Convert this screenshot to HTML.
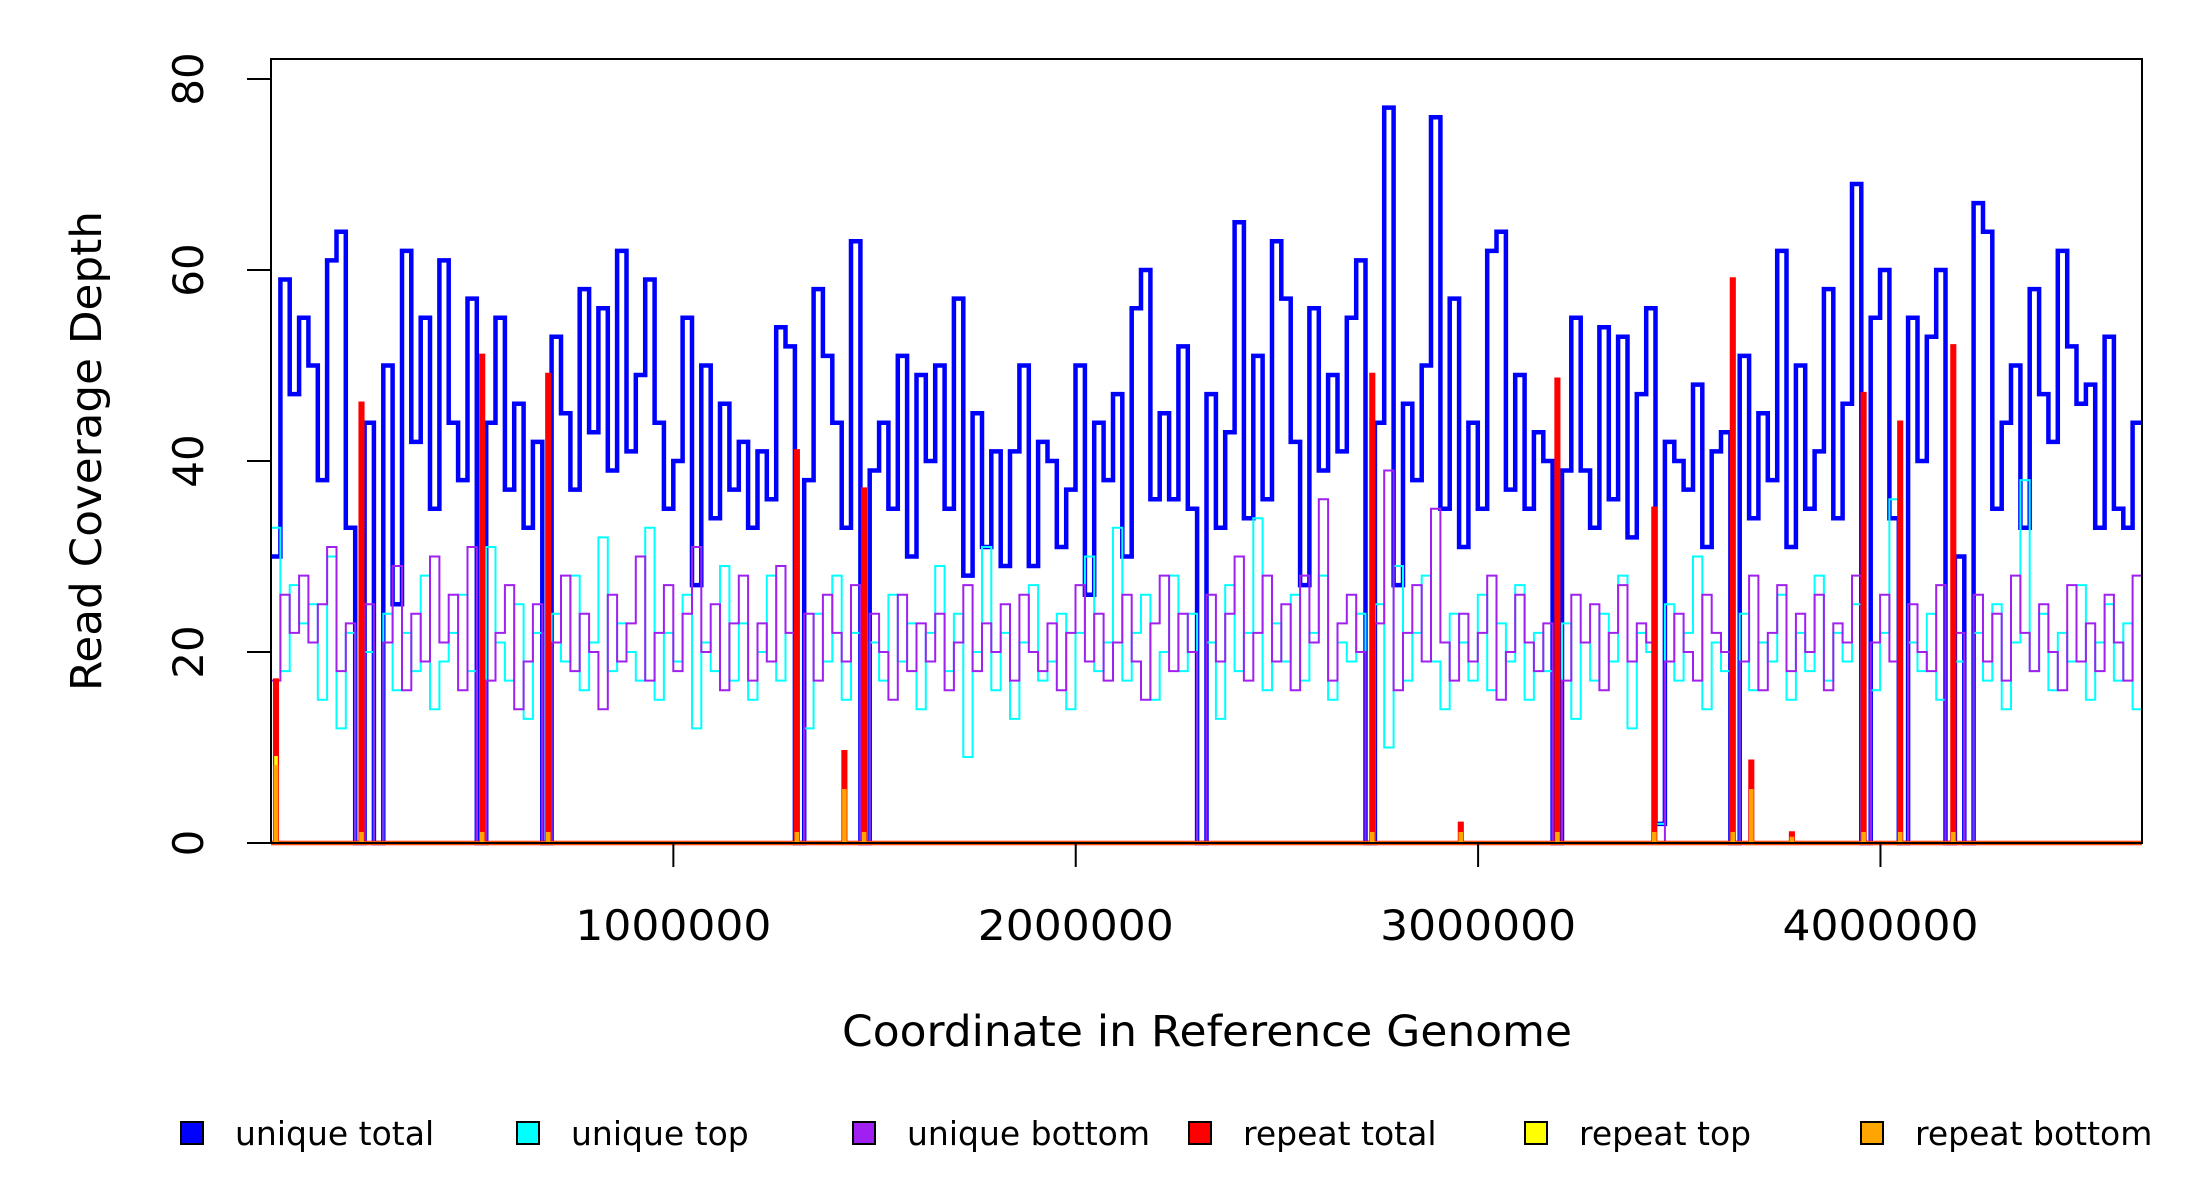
<!DOCTYPE html>
<html><head><meta charset="utf-8"><title>Read Coverage Depth</title>
<style>html,body{margin:0;padding:0;background:#fff;}svg{display:block;font-family:"DejaVu Sans","Liberation Sans",sans-serif;}</style>
</head><body>
<svg id="chart" width="2200" height="1200" viewBox="0 0 2200 1200" xmlns="http://www.w3.org/2000/svg">
<g id="plot"></g>
<g id="axes"></g>
<text x="1207" y="1046" font-size="43" text-anchor="middle" textLength="730" lengthAdjust="spacingAndGlyphs">Coordinate in Reference Genome</text>
<text x="0" y="0" font-size="43" text-anchor="middle" transform="translate(101,451) rotate(-90)" textLength="480" lengthAdjust="spacingAndGlyphs">Read Coverage Depth</text>
<g id="legend"></g>
</svg>
<script>
const binSize = 23250;
const uniqueTotal = [30,59,47,55,50,38,61,64,33,0,44,0,50,25,62,42,55,35,61,44,
38,57,0,44,55,37,46,33,42,0,53,45,37,58,43,56,39,62,41,49,
59,44,35,40,55,27,50,34,46,37,42,33,41,36,54,52,0,38,58,51,
44,33,63,0,39,44,35,51,30,49,40,50,35,57,28,45,31,41,29,41,
50,29,42,40,31,37,50,26,44,38,47,30,56,60,36,45,36,52,35,0,
47,33,43,65,34,51,36,63,57,42,27,56,39,49,41,55,61,0,44,77,
27,46,38,50,76,35,57,31,44,35,62,64,37,49,35,43,40,0,39,55,
39,33,54,36,53,32,47,56,2,42,40,37,48,31,41,43,0,51,34,45,
38,62,31,50,35,41,58,34,46,69,0,55,60,34,0,55,40,53,60,0,
30,0,67,64,35,44,50,33,58,47,42,62,52,46,48,33,53,35,33,44];
const uniqueTop = [33,18,27,23,25,15,30,12,22,0,20,0,24,16,22,18,28,14,19,22,
26,18,0,31,21,17,25,13,22,0,24,19,28,16,21,32,18,23,20,17,
33,15,22,19,26,12,21,18,29,17,23,15,20,28,17,22,0,12,24,19,
28,15,22,0,21,17,26,19,23,14,22,29,18,24,9,20,31,16,22,13,
21,27,17,19,24,14,22,30,18,21,33,17,22,26,15,20,28,18,24,0,
21,13,27,18,22,34,16,23,19,26,17,22,28,15,21,19,24,0,25,10,
29,17,22,28,19,14,24,21,17,26,16,23,19,27,15,22,18,0,23,13,
21,17,24,19,28,12,22,20,2,25,17,22,30,14,21,18,0,24,16,21,
19,26,15,22,18,28,17,22,19,25,0,16,22,36,0,21,18,24,15,0,
19,0,22,17,25,14,21,38,18,24,16,22,19,27,15,21,25,17,23,14];
const uniqueBottom = [17,26,22,28,21,25,31,18,23,0,25,0,21,29,16,24,19,30,21,26,
16,31,0,17,22,27,14,19,25,0,21,28,18,24,20,14,26,19,23,30,
17,22,27,18,24,31,20,25,16,23,28,17,23,19,29,22,0,24,17,26,
22,19,27,0,24,20,15,26,18,23,19,24,16,21,27,18,23,20,25,17,
26,20,18,23,16,22,27,19,24,17,21,26,19,15,23,28,18,24,20,0,
26,19,24,30,17,22,28,19,25,16,28,21,36,17,23,26,20,0,23,39,
16,22,27,19,35,21,17,24,19,22,28,15,20,26,21,18,23,0,17,26,
21,25,16,22,27,19,23,21,0,19,24,20,17,26,22,20,0,19,28,16,
22,27,18,24,20,26,16,23,21,28,0,21,26,19,0,25,20,18,27,0,
22,0,26,19,24,17,28,22,18,25,20,16,27,19,23,18,26,21,17,28];
const repeatPos = [10500,223000,523000,687000,1305000,1423000,1472000,2735000,2955000,3195000,3436000,3631000,3677000,3778000,3956000,4047000,4179000];
const repeatTotal = [17,46,51,49,41,9.5,37,49,2,48.5,35,59,8.5,1,47,44,52];
const repeatTop = [9,1,1,1,1,4,1,1,1,1,1,1,3,0.5,1,1,1];
const repeatBottom = [8,1,1,1,1,5.5,1,1,1,1,1,1,5.5,0.5,1,1,1];
const xTicks = [1000000,2000000,3000000,4000000];
const yTicks = [0,20,40,60,80];
const legendLabels = ["unique total","unique top","unique bottom","repeat total","repeat top","repeat bottom"];
const legendColors = ["#0000ff","#00ffff","#a020f0","#ff0000","#ffff00","#ffa500"];

const NS = "http://www.w3.org/2000/svg";
const L = 271, R = 2142, T = 59, B = 843;
const xMax = 4650000;
const xs = v => L + v / xMax * (R - L);
const ys = v => B - v * 9.55;
function mk(tag, attrs, parent){const e=document.createElementNS(NS,tag);for(const k in attrs)e.setAttribute(k,attrs[k]);parent.appendChild(e);return e;}
const plot = document.getElementById('plot');
const axes = document.getElementById('axes');
const legend = document.getElementById('legend');

function stepPath(vals){
  let d = "M" + xs(0).toFixed(1) + "," + ys(vals[0]).toFixed(1);
  for(let i=0;i<vals.length;i++){
    const x0 = xs(i*binSize), x1 = xs(Math.min((i+1)*binSize, xMax));
    d += " H" + x0.toFixed(1) + " V" + ys(vals[i]).toFixed(1) + " H" + x1.toFixed(1);
  }
  return d;
}
function spikePath(vals){
  let d = "M" + xs(0).toFixed(1) + "," + ys(0);
  for(let i=0;i<repeatPos.length;i++){
    const x0 = xs(repeatPos[i]), x1 = xs(repeatPos[i]+4000);
    d += " H" + x0.toFixed(1) + " V" + ys(vals[i]).toFixed(1) + " H" + x1.toFixed(1) + " V" + ys(0);
  }
  d += " H" + xs(xMax).toFixed(1);
  return d;
}
let p;
p = mk('path',{d:stepPath(uniqueTotal),fill:'none',stroke:'#0000ff','stroke-width':4.5},plot);


p = mk('path',{d:stepPath(uniqueTop),fill:'none',stroke:'#00ffff','stroke-width':2},plot);


p = mk('path',{d:stepPath(uniqueBottom),fill:'none',stroke:'#a020f0','stroke-width':2},plot);


p = mk('path',{d:spikePath(repeatTotal),fill:'none',stroke:'#ff0000','stroke-width':4.5},plot);


p = mk('path',{d:spikePath(repeatTop),fill:'none',stroke:'#ffff00','stroke-width':2},plot);


p = mk('path',{d:spikePath(repeatBottom),fill:'none',stroke:'#ffa500','stroke-width':3},plot);



p = mk('rect',{x:L,y:T,width:R-L,height:B-T,fill:'none',stroke:'#000','stroke-width':2},axes);


yTicks.forEach(v=>{
  const t = mk('line',{x1:L-24,x2:L,y1:ys(v),y2:ys(v),stroke:'#000','stroke-width':2},axes);
  
  
  const lb = mk('text',{x:0,y:0,'font-size':42,'text-anchor':'middle',transform:'translate(203,'+ys(v)+') rotate(-90)'},axes);
  lb.textContent = String(v);
  
  
});
xTicks.forEach(v=>{
  const t = mk('line',{x1:xs(v),x2:xs(v),y1:B,y2:B+24,stroke:'#000','stroke-width':2},axes);
  
  
  const lb = mk('text',{x:xs(v),y:940,'font-size':42,'text-anchor':'middle',textLength:196,lengthAdjust:'spacingAndGlyphs'},axes);
  lb.textContent = String(v);
  
  
});
legendLabels.forEach((lab,i)=>{
  const cx = 192 + i*336;
  const g = mk('g',{},legend);
  
  
  mk('rect',{x:cx-11,y:1122,width:22,height:22,fill:legendColors[i],stroke:'#000','stroke-width':2},g);
  const tx = mk('text',{x:cx+43,y:1145,'font-size':33},g);
  tx.textContent = lab;
});
</script>
</body></html>
